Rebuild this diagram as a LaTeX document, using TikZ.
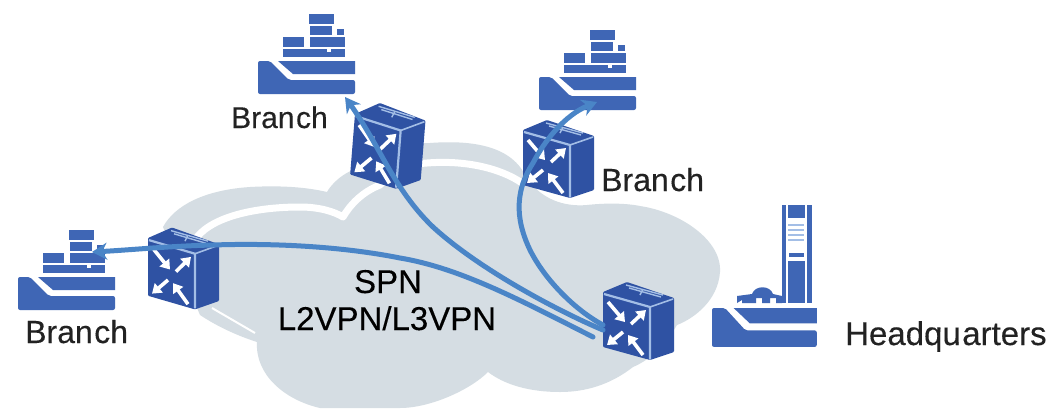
\documentclass[tikz,border=0pt]{standalone}
\usepackage{fontspec}
\setmainfont{Liberation Sans}
\newfontfamily\heavy{Liberation Sans}[FakeBold=0.25]
\usetikzlibrary{arrows.meta}
\definecolor{cloudc}{HTML}{D5DDE3}
\definecolor{iconc}{HTML}{3F66B5}
\definecolor{frontc}{HTML}{2F52A3}
\definecolor{edgec}{HTML}{A3BEE6}
\definecolor{linkc}{HTML}{4A85C7}
\definecolor{textc}{HTML}{222222}
\tikzset{
  link/.style={draw=linkc,line width=5pt,line cap=round,-{Stealth[length=15pt,width=17pt]}},
  raw/.style={white,line width=3.6pt,-{Triangle[length=9pt,width=12pt]}},
  lab/.style={font=\heavy\fontsize{32}{32}\selectfont,text=textc,anchor=base west,inner sep=0pt},
  big/.style={font=\heavy\fontsize{33}{33}\selectfont,text=black,anchor=base,inner sep=0pt},
  router/.pic={
    \fill[frontc,rounded corners=1pt] (0,0)--(24,-10)--(71,6)--(71,60)--(47,68)--(0,55)--cycle;
    \draw[edgec,line width=2.2pt] (1,2)--(47,15)--(47,67);
    \draw[edgec,line width=1.6pt] (47,15)--(70,7);
    \draw[edgec,line width=1.4pt] (23,-7)--(60,3) (26,-4)--(58,5) (40,-3)--(37,3);
    \draw[raw] (5,10)--(22,30);
    \draw[raw] (28,32)--(43,18);
    \draw[raw] (20,40)--(4,53);
    \draw[raw] (40,63)--(25,43);
    \coordinate (-c) at (35,30);
  },
  hull/.pic={
    \fill[iconc] (20,0)--(97,0)--(97,13)--(35,13)--cycle;
    \fill[iconc,rounded corners=2pt] (0,0)--(12,0)--(31,19)--(97,19)--(97,33)--(0,33)--cycle;
  },
  ship/.pic={
    \pic {hull};
    \fill[iconc] (25,-12) rectangle (87,-4);
    \fill[white] (69,-12) rectangle (73,-9);
    \fill[iconc] (25,-24) rectangle (46,-14);
    \fill[iconc] (52,-24) rectangle (87,-14);
    \fill[iconc] (52,-35) rectangle (74,-26);
    \fill[iconc] (79,-32) rectangle (86,-26);
    \fill[iconc] (51,-47) rectangle (76,-37);
  },
}
\begin{document}
\begin{tikzpicture}[x=1pt,y=-1pt]
\useasboundingbox (0,0) rectangle (1052,408);
\fill[white] (0,0) rectangle (1052,408);
% cloud
\fill[cloudc] (163,227) .. controls (175,205) and (205,190) .. (250,187)
  .. controls (285,185) and (310,188) .. (327,192)
  .. controls (335,178) and (350,170) .. (365,165)
  .. controls (375,150) and (395,143) .. (430,143)
  .. controls (470,140) and (510,145) .. (525,175)
  .. controls (540,200) and (565,207) .. (587,205)
  .. controls (605,203) and (625,203) .. (640,206)
  .. controls (680,212) and (722,240) .. (720,272)
  .. controls (718,300) and (695,318) .. (677,325)
  .. controls (665,345) and (650,360) .. (633,367)
  .. controls (610,385) and (585,392) .. (560,392)
  .. controls (530,392) and (505,385) .. (488,372)
  .. controls (470,390) and (430,408) .. (400,408)
  -- (320,408)
  .. controls (285,400) and (255,375) .. (257,342)
  .. controls (235,335) and (215,325) .. (200,315)
  -- cycle;
\draw[white,line width=7pt,line cap=round,line join=round] (197,237) .. controls (215,215) and (260,207) .. (300,207)
  .. controls (320,207) and (335,212) .. (343,217)
  .. controls (350,205) and (362,192) .. (380,185)
  .. controls (395,170) and (410,164) .. (427,163)
  .. controls (465,160) and (500,168) .. (522,183);
\draw[white,line width=2pt] (212,308)--(255,333);
% routers
\pic (rL) [yscale=1.05] at (148,238) {router};
\pic (rT) [xslant=0.08,yscale=1.1] at (355,114) {router};
\pic (rB) at (523,130) {router};
\pic (rH) at (603,292) {router};
% ships
\pic (sT) at (258,61) {ship};
\pic (sB) at (539,77) {ship};
\pic (sL) at (18,277) {ship};
% headquarters
\pic (hH) [xscale=1.08,yscale=1.18] at (712,308) {hull};
\fill[iconc] (782,205) rectangle (812,303);
\fill[white] (786,205) rectangle (788,303);
\fill[white] (805,205) rectangle (807,303);
\fill[white] (788,218) rectangle (805,261);
\fill[iconc] (789,253) rectangle (804,257);
\draw[edgec,line width=1.4pt] (788,225)--(804,225) (788,230)--(804,230) (788,235)--(804,235) (788,240)--(804,240);
\fill[iconc] (737,296) -- (752,294) .. controls (755,285) and (770,285) .. (773,294) -- (782,296) -- (782,303) -- (776,303) -- (776,298) -- (770,298) -- (770,303) -- (762,303) -- (762,298) -- (756,298) -- (756,303) -- (742,303) -- (742,300) -- (737,303) -- cycle;
% connector ends
\coordinate (hqA) at (593,337);
\coordinate (hqB) at (603,330);
\coordinate (hqC) at (603,325);
\coordinate (tipL) at (92,252);
\coordinate (tipT) at (345,97);
\coordinate (tipB) at (597,102);
\draw[link] (hqA) .. controls (520,300) and (460,268) .. (400,258)
  .. controls (340,246) and (270,243) .. (213,245)
  .. controls (170,246) and (130,250) .. (tipL);
\draw[link] (hqB) .. controls (560,312) and (480,270) .. (433,227)
  .. controls (410,205) and (395,180) .. (380,153)
  .. controls (370,135) and (358,115) .. (tipT);
\draw[link] (hqC) .. controls (575,310) and (545,280) .. (530,250)
  .. controls (518,225) and (512,195) .. (533,163)
  .. controls (545,140) and (565,115) .. (tipB);
% labels
\node[lab,font=\heavy\fontsize{30}{30}\selectfont] (l1) at (231,128) {Bran\hspace{1.5pt}ch};
\node[lab] (l2) at (25,343) {Bran\hspace{1.5pt}ch};
\node[lab] (l3) at (601,191) {Bran\hspace{1.5pt}ch};
\node[lab,font=\heavy\fontsize{33}{33}\selectfont] (l4) at (845,345) {Headqu\hspace{1.5pt}arters};
\node[big] (l5) at (388,293) {SPN};
\node[big] (l6) at (387,330) {L2VPN/L3VPN};
\end{tikzpicture}
\end{document}
